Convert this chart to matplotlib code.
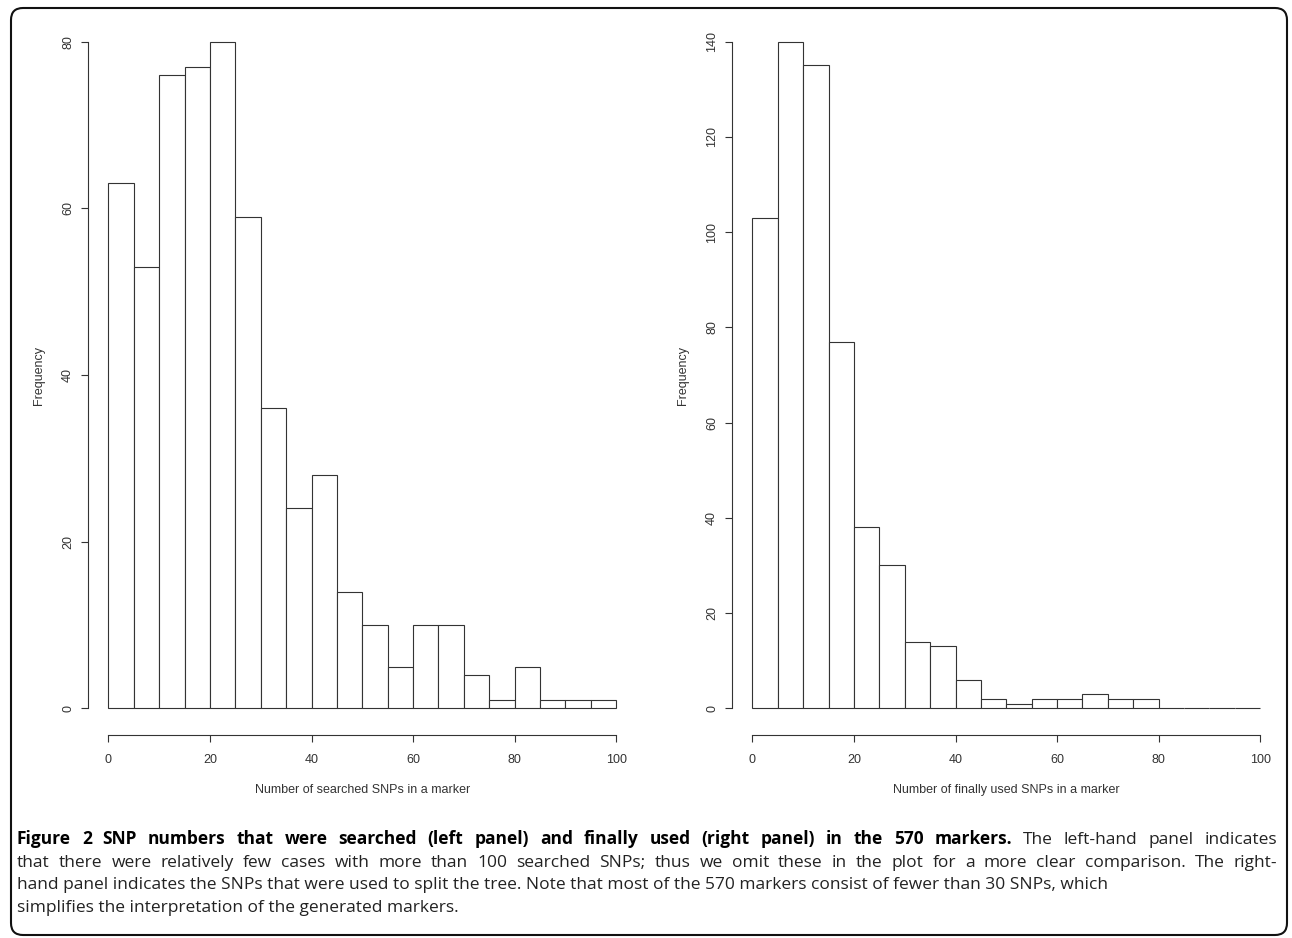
import matplotlib
matplotlib.use("Agg")
import matplotlib.pyplot as plt
import numpy as np
from matplotlib.patches import FancyBboxPatch
from matplotlib.transforms import IdentityTransform

# ── data ─────────────────────────────────────────────────────────────────────
BIN_EDGES = np.arange(0, 105, 5)
SEARCHED = [63, 53, 76, 77, 80, 59, 36, 24, 28, 14, 10, 5, 10, 10, 4, 1, 5, 1, 1, 1]
USED     = [103, 140, 135, 77, 38, 30, 14, 13, 6, 2, 1, 2, 2, 3, 2, 2, 0, 0, 0, 0]

X_TICKS       = [0, 20, 40, 60, 80, 100]
Y_TICKS_LEFT  = [0, 20, 40, 60, 80]
Y_TICKS_RIGHT = [0, 20, 40, 60, 80, 100, 120, 140]

XLABEL_LEFT  = "Number of searched SNPs in a marker"
XLABEL_RIGHT = "Number of finally used SNPs in a marker"
YLABEL = "Frequency"

CAPTION_BOLD = "Figure 2 SNP numbers that were searched (left panel) and finally used (right panel) in the 570 markers."
CAPTION_LINES = [
    "The left-hand panel indicates",
    "that there were relatively few cases with more than 100 searched SNPs; thus we omit these in the plot for a more clear comparison. The right-",
    "hand panel indicates the SNPs that were used to split the tree. Note that most of the 570 markers consist of fewer than 30 SNPs, which",
    "simplifies the interpretation of the generated markers.",
]

W, H = 1292, 938
LINE = "#333333"
AX_FONT = "Liberation Sans"
CAP_FONT = "Open Sans"
CAP_SIZE = 12.5


def panel(ax, counts, yticks, xlabel):
    ymax = yticks[-1]
    ax.bar(BIN_EDGES[:-1], counts, width=5, align="edge",
           facecolor="white", edgecolor=LINE, linewidth=0.8)
    ax.set_xlim(-4, 104)
    ax.set_ylim(-0.04 * ymax, 1.04 * ymax)
    for s in ("top", "right"):
        ax.spines[s].set_visible(False)
    ax.spines["left"].set_bounds(0, ymax)
    ax.spines["bottom"].set_bounds(0, 100)
    for s in ("left", "bottom"):
        ax.spines[s].set_color(LINE)
        ax.spines[s].set_linewidth(0.8)
    ax.set_xticks(X_TICKS)
    ax.set_yticks(yticks)
    ax.tick_params(length=5, width=0.8, color=LINE, labelcolor="#333333", labelsize=9)
    ax.tick_params(axis="x", pad=9)
    ax.tick_params(axis="y", pad=5)
    for lab in ax.get_yticklabels():
        lab.set_rotation(90)
        lab.set_va("center")
    for lab in ax.get_xticklabels() + ax.get_yticklabels():
        lab.set_family(AX_FONT)
    ax.set_xlabel(xlabel, fontsize=9, family=AX_FONT, color="#333333")
    ax.set_ylabel(YLABEL, fontsize=9, family=AX_FONT, color="#333333")
    ax.xaxis.set_label_coords(0.5, -0.0765)
    ax.xaxis.label.set_va("center")
    ax.yaxis.set_label_coords(-0.09, 0.5)
    ax.yaxis.label.set_va("center")


fig = plt.figure(figsize=(W / 100, H / 100), dpi=100)
ax1 = fig.add_axes([88 / W, (H - 735) / H, 548.6 / W, 720 / H])
ax2 = fig.add_axes([732 / W, (H - 735) / H, 548.6 / W, 720 / H])
panel(ax1, SEARCHED, Y_TICKS_LEFT, XLABEL_LEFT)
panel(ax2, USED, Y_TICKS_RIGHT, XLABEL_RIGHT)

# rounded frame round the whole figure
frame = FancyBboxPatch((11, H - 935), 1276, 927,
                       boxstyle="round,pad=0,rounding_size=12",
                       transform=IdentityTransform(), facecolor="none",
                       edgecolor="#111111", linewidth=1.5)
fig.add_artist(frame)

# caption, first two lines justified word by word
renderer = fig.canvas.get_renderer()
X0, X1 = 17, 1277
BASELINES = [844, 867, 889, 912]


def make_word(word, weight, color):
    return fig.text(0, 0, word, fontsize=CAP_SIZE, fontweight=weight,
                    family=CAP_FONT, color=color, va="baseline",
                    transform=IdentityTransform())


def justify(parts, baseline):
    items = []
    for word, weight, color in parts:
        t = make_word(word, weight, color)
        items.append((t, t.get_window_extent(renderer).width))
    gap = (X1 - X0 - sum(w for _, w in items)) / (len(items) - 1)
    x = X0
    for t, w in items:
        t.set_position((x, H - baseline))
        x += w + gap


line1 = [(w, "bold", "black") for w in CAPTION_BOLD.split()] + \
        [(w, "normal", "#222222") for w in CAPTION_LINES[0].split()]
justify(line1, BASELINES[0])
justify([(w, "normal", "#222222") for w in CAPTION_LINES[1].split()], BASELINES[1])
for txt, b in zip(CAPTION_LINES[2:], BASELINES[2:]):
    fig.text(X0, H - b, txt, fontsize=CAP_SIZE, family=CAP_FONT, color="#222222",
             va="baseline", transform=IdentityTransform())

fig.savefig("out.png", dpi=100)
